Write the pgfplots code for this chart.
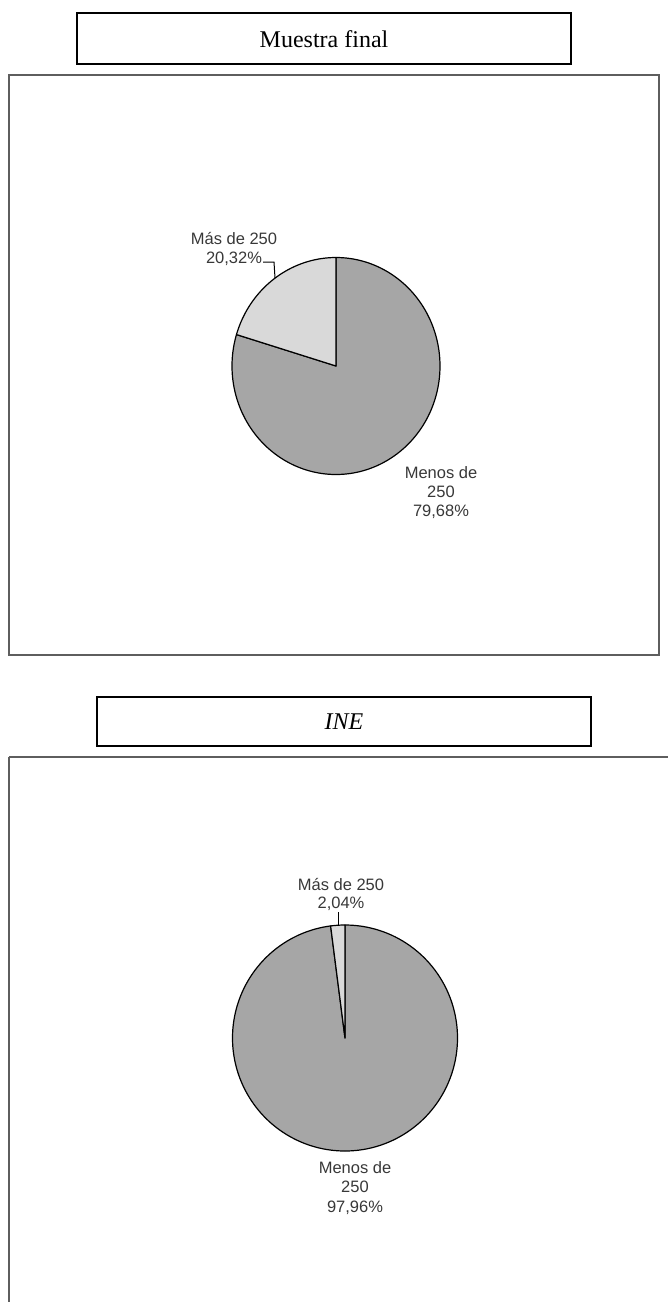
\documentclass[border=0pt]{standalone}
\usepackage{pgfplots}
\pgfplotsset{compat=1.18}
\usepackage{fontspec}
\setmainfont{Liberation Sans}
\newfontfamily\titlefont{Liberation Serif}
\definecolor{sliceA}{HTML}{A6A6A6}
\definecolor{sliceB}{HTML}{D9D9D9}
\definecolor{framegray}{HTML}{5E5E5E}
\definecolor{labelgray}{HTML}{383838}
% data (percentages)
\def\muestraMenos{79.68}
\def\muestraMas{20.32}
\def\ineMenos{97.96}
\def\ineMas{2.04}
\pgfmathsetmacro{\aTop}{90+3.6*\muestraMas}
\pgfmathsetmacro{\aBot}{90+3.6*\ineMas}
\tikzset{lab/.style={font=\fontsize{16.5}{19.5}\selectfont, text=labelgray, anchor=base, inner sep=0pt}}
\begin{document}
\begin{tikzpicture}
\useasboundingbox (0,0) rectangle (668pt,-1302pt);
% title boxes
\draw[line width=2pt] (77pt,-13pt) rectangle (571pt,-64pt);
\node[font=\titlefont\fontsize{24}{28}\selectfont] at (324pt,-39pt) {Muestra final};
\draw[line width=2pt] (97pt,-697pt) rectangle (591pt,-746pt);
\node[font=\titlefont\itshape\fontsize{24}{28}\selectfont] at (344pt,-722pt) {INE};
% first pie
\begin{axis}[at={(9pt,-655pt)}, anchor=south west, width=650pt, height=580pt, scale only axis,
  xmin=-327, xmax=323, ymin=-289, ymax=291, xtick=\empty, ytick=\empty,
  axis line style={draw=framegray, line width=1.6pt}, clip=false]
\addplot[draw=black, line width=1.2pt, fill=sliceA, domain=\aTop:450, samples=240, line join=round]
  ({104*cos(x)},{108.5*sin(x)}) -- (axis cs:0,0) -- cycle;
\addplot[draw=black, line width=1.2pt, fill=sliceB, domain=90:\aTop, samples=80, line join=round]
  ({104*cos(x)},{108.5*sin(x)}) -- (axis cs:0,0) -- cycle;
\addplot[black, line width=1pt, sharp plot] coordinates {(-73,104) (-62,104) (-61,88)};
\node[lab] at (axis cs:-102,122) {Más de 250};
\node[lab] at (axis cs:-102,103) {20,32\%};
\node[lab] at (axis cs:105,-112) {Menos de};
\node[lab] at (axis cs:105,-131) {250};
\node[lab] at (axis cs:105,-150) {79,68\%};
\end{axis}
% second pie
\begin{axis}[at={(9pt,-1302pt)}, anchor=south west, width=659pt, height=545pt, scale only axis,
  xmin=-336, xmax=323, ymin=-264, ymax=281, xtick=\empty, ytick=\empty,
  axis x line*=top, axis y line*=left,
  axis line style={draw=framegray, line width=1.6pt, -}, clip=false]
\addplot[draw=black, line width=1.2pt, fill=sliceA, domain=\aBot:450, samples=240, line join=round]
  ({112.5*cos(x)},{113*sin(x)}) -- (axis cs:0,0) -- cycle;
\addplot[draw=black, line width=1.2pt, fill=sliceB, domain=90:\aBot, samples=20, line join=round]
  ({112.5*cos(x)},{113*sin(x)}) -- (axis cs:0,0) -- cycle;
\addplot[black, line width=1pt, sharp plot] coordinates {(-7,126) (-7,112.5)};
\node[lab] at (axis cs:-4,148) {Más de 250};
\node[lab] at (axis cs:-4,130) {2,04\%};
\node[lab] at (axis cs:10,-135) {Menos de};
\node[lab] at (axis cs:10,-154) {250};
\node[lab] at (axis cs:10,-174) {97,96\%};
\end{axis}
\end{tikzpicture}
\end{document}
